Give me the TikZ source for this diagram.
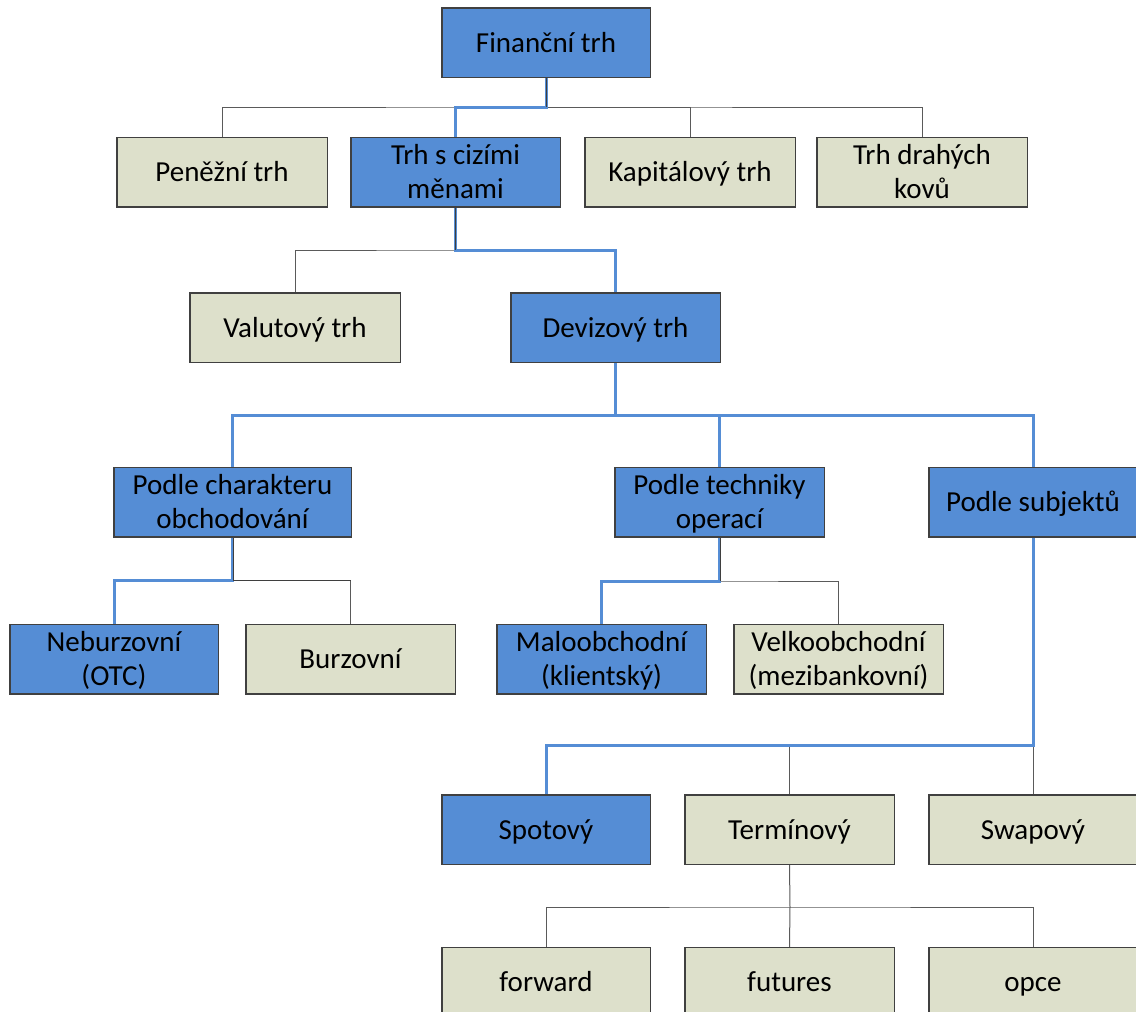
\documentclass[tikz,border=0pt]{standalone}
\usepackage{fontspec}
\setmainfont{Carlito}
\newcommand\Sx{\rule[-7.2pt]{0pt}{34pt}}
\begin{document}
\begin{tikzpicture}[x=1pt,y=-1pt,
  box/.style={draw=boxline, line width=1pt, rectangle, inner sep=0pt,
    minimum width=208pt, minimum height=69pt, align=center,
    font=\fontsize{29}{34}\selectfont},
  bluebox/.style={box, fill=hiblue},
  beigebox/.style={box, fill=beige},
  gl/.style={draw=conn, line width=1pt},
  bl/.style={draw=hiblue, line width=3pt, line join=miter},
  dk/.style={draw=conn!70!black, line width=1pt}]
\definecolor{hiblue}{RGB}{85,141,213}
\definecolor{beige}{RGB}{221,224,203}
\definecolor{boxline}{RGB}{64,64,64}
\definecolor{conn}{RGB}{90,90,90}
\useasboundingbox (0,0) rectangle (1136,1012);
\clip (0,0) rectangle (1136,1012);
\fill[white] (0,0) rectangle (1136,1012);

% bus coordinates
\coordinate (b1) at (546,107);
\coordinate (b2) at (455.5,250);
\coordinate (b3) at (615.5,415);
\coordinate (b4) at (232.5,580);
\coordinate (b5) at (719.5,581);
\coordinate (b6) at (1033,745);
\coordinate (b7) at (790,907);

% nodes
\node[bluebox] (fin) at (546,42.5) {\Sx Finanční trh};

\node[beigebox, minimum width=210pt] (pen) at (222,172) {\Sx Peněžní trh};
\node[bluebox, minimum width=209pt] (tcm) at (455.5,172) {\Sx Trh s cizími\\\Sx měnami};
\node[beigebox, minimum width=210pt] (kap) at (690,172) {\Sx Kapitálový trh};
\node[beigebox, minimum width=210pt] (kov) at (922,172) {\Sx Trh drahých\\\Sx kovů};

\node[beigebox, minimum width=210pt] (val) at (295,327.5) {\Sx Valutový trh};
\node[bluebox, minimum width=209pt] (dev) at (615.5,327.5) {\Sx Devizový trh};

\node[bluebox, minimum width=237pt] (char) at (232.5,502) {\Sx Podle charakteru\\\Sx obchodování};
\node[bluebox, minimum width=209pt] (tech) at (719.5,502) {\Sx Podle techniky\\\Sx operací};
\node[bluebox, minimum width=208pt] (subj) at (1033,502) {\Sx Podle subjektů};

\node[bluebox] (neb) at (114,659) {\Sx Neburzovní\\\Sx (OTC)};
\node[beigebox, minimum width=209pt] (bur) at (350.5,659) {\Sx Burzovní};
\node[bluebox, minimum width=209pt] (malo) at (601.5,659) {\Sx Maloobchodní\\\Sx (klientský)};
\node[beigebox, minimum width=209pt] (velk) at (838.5,659) {\Sx Velkoobchodní\\\Sx (mezibankovní)};

\node[bluebox] (spot) at (546,829.5) {\Sx Spotový};
\node[beigebox, minimum width=209pt] (term) at (789.5,829.5) {\Sx Termínový};
\node[beigebox] (swap) at (1033,829.5) {\Sx Swapový};

\node[beigebox] (fwd) at (546,982) {\Sx forward};
\node[beigebox, minimum width=209pt] (fut) at (789.5,982) {\Sx futures};
\node[beigebox] (opce) at (1033,982) {\Sx opce};

% gray tree connectors
\path[gl] (pen.north) |- (b1) -| (kov.north);
\path[gl] (fin.south) -- (b1);
\path[gl] (b1) -| (tcm.north);
\path[gl] (b1) -| (kap.north);

\path[gl] (val.north) |- (b2) -| (dev.north);
\path[gl] (tcm.south) -- (b2);

\path[gl] (char.north) |- (b3) -| (subj.north);
\path[gl] (dev.south) -- (b3);
\path[gl] (b3) -| (tech.north);

\path[gl] (neb.north) |- (b4) -| (bur.north);
\path[gl] (char.south) -- (b4);

\path[gl] (malo.north) |- (b5) -| (velk.north);
\path[gl] (tech.south) -- (b5);

\path[gl] (spot.north) |- (b6) -| (swap.north);
\path[gl] (subj.south) -- (b6);
\path[gl] (b6) -| (term.north);

\path[gl] (fwd.north) |- (b7) -| (opce.north);
\path[gl] (term.south) -- (b7);
\path[gl] (b7) -- (fut.north);

% highlighted path
\path[bl] (fin.south) -- (b1) -| (tcm.north);
\path[bl] (tcm.south) -- (b2) -| (dev.north);
\path[bl] (dev.south) -- (b3);
\path[bl] (char.north) |- (b3) -| (subj.north);
\path[bl] (b3) -| (tech.north);
\path[bl] (char.south) -- (b4) -| (neb.north);
\path[bl] (tech.south) -- (b5) -| (malo.north);
\path[bl] (subj.south) -- (b6) -| (spot.north);

% dark overlay on parent stems
\path[dk] (fin.south) -- (b1);
\path[dk] (tcm.south) -- (b2);
\path[dk] ([xshift=1pt]char.south) -- ([xshift=1pt]b4) -- ++(117,0);
\path[dk] ([xshift=1pt]tech.south) -- ([xshift=1pt]b5);

% redraw box borders on top of line ends
\foreach \n in {fin,pen,tcm,kap,kov,val,dev,char,tech,subj,neb,bur,malo,velk,spot,term,swap,fwd,fut,opce}
  \draw[boxline, line width=1pt] (\n.north west) rectangle (\n.south east);
\end{tikzpicture}
\end{document}
